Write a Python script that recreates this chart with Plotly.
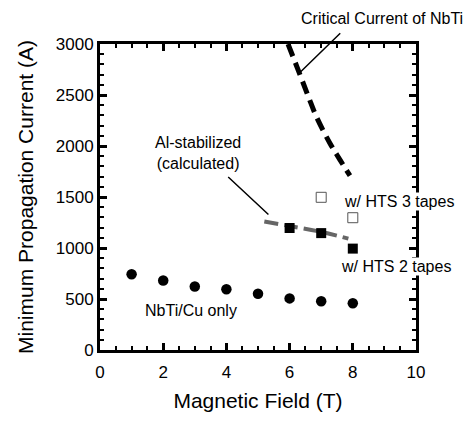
import plotly.graph_objects as go

# Data
field_cu = [1, 2, 3, 4, 5, 6, 7, 8]
mpc_cu = [743, 681, 623, 595, 551, 506, 478, 459]

field_hts2 = [6, 7, 8]
mpc_hts2 = [1196, 1146, 994]

field_hts3 = [7, 8]
mpc_hts3 = [1497, 1297]

field_ic = [5.95, 6.3, 6.6, 6.86, 7.28, 7.59, 7.91]
ic_nbti = [3000, 2722, 2480, 2279, 2025, 1867, 1709]

field_al = [5.2, 6.0, 7.0, 7.86]
mpc_al = [1260, 1215, 1158, 1092]

FONT = "Liberation Sans, Arial, Helvetica, sans-serif"

fig = go.Figure()

fig.add_trace(go.Scatter(x=field_ic, y=ic_nbti, mode="lines",
                         line=dict(color="black", width=5, dash="13px,7px", shape="spline"),
                         showlegend=False))
fig.add_trace(go.Scatter(x=field_al, y=mpc_al, mode="lines",
                         line=dict(color="#666666", width=4, dash="14px,6px", shape="spline"),
                         showlegend=False))
fig.add_trace(go.Scatter(x=field_cu, y=mpc_cu, mode="markers",
                         marker=dict(symbol="circle", size=10.5, color="black"),
                         showlegend=False))
fig.add_trace(go.Scatter(x=field_hts2, y=mpc_hts2, mode="markers",
                         marker=dict(symbol="square", size=10, color="black"),
                         showlegend=False))
fig.add_trace(go.Scatter(x=field_hts3, y=mpc_hts3, mode="markers",
                         marker=dict(symbol="square-open", size=10, color="#555555",
                                     line=dict(width=1)),
                         showlegend=False))

ann_font = dict(family=FONT, size=16, color="black")
annotations = [
    dict(text="Critical Current of NbTi", xref="paper", yref="paper",
         x=0.63, y=1.082, xanchor="left", yanchor="middle", showarrow=False, font=ann_font),
    dict(text="Al-stabilized<br>(calculated)", xref="x", yref="y",
         x=3.10, y=1930, xanchor="center", yanchor="middle", showarrow=False, font=ann_font),
    dict(text="w/ HTS 3 tapes", xref="x", yref="y", bgcolor="white", borderpad=0,
         x=9.46, y=1456, xanchor="center", yanchor="middle", showarrow=False, font=ann_font),
    dict(text="w/ HTS 2 tapes", xref="x", yref="y", bgcolor="white", borderpad=0,
         x=9.37, y=822, xanchor="center", yanchor="middle", showarrow=False, font=ann_font),
    dict(text="NbTi/Cu only", xref="x", yref="y",
         x=2.88, y=386, xanchor="center", yanchor="middle", showarrow=False, font=ann_font),
    dict(text="", xref="x", yref="y", x=6.31, y=2716, axref="x", ayref="y",
         ax=7.65, ay=3120, showarrow=True, arrowhead=0, arrowwidth=1.5, arrowcolor="black"),
    dict(text="", xref="x", yref="y", x=5.33, y=1329, axref="x", ayref="y",
         ax=4.01, ay=1709, showarrow=True, arrowhead=0, arrowwidth=1.5, arrowcolor="black"),
]

axis_common = dict(showline=True, linecolor="black", linewidth=3, mirror="allticks",
                   ticks="inside", ticklen=7, tickwidth=2.5, tickcolor="black",
                   showgrid=False, zeroline=False,
                   tickfont=dict(family=FONT, size=17, color="black"))

fig.update_layout(
    width=474, height=421,
    margin=dict(l=100, r=58, t=44, b=61),
    paper_bgcolor="white", plot_bgcolor="white",
    font=dict(family=FONT, color="black"),
    annotations=annotations,
    xaxis=dict(range=[0, 10], dtick=2, tick0=0, ticklabelstandoff=5,
               minor=dict(dtick=0.5, ticks="inside", ticklen=4, tickwidth=2, tickcolor="black"),
               title=dict(text="Magnetic Field (T)", font=dict(family=FONT, size=21, color="black"),
                          standoff=12),
               **axis_common),
    yaxis=dict(range=[0, 3000], dtick=500, tick0=0,
               minor=dict(dtick=100, ticks="inside", ticklen=4, tickwidth=2, tickcolor="black"),
               title=dict(text="Minimum Propagation Current (A)",
                          font=dict(family=FONT, size=21, color="black"), standoff=17),
               **axis_common),
)

fig.write_html("out.html", config={"displayModeBar": False},
               post_script="document.body.style.margin='0';document.body.style.overflow='hidden';")
